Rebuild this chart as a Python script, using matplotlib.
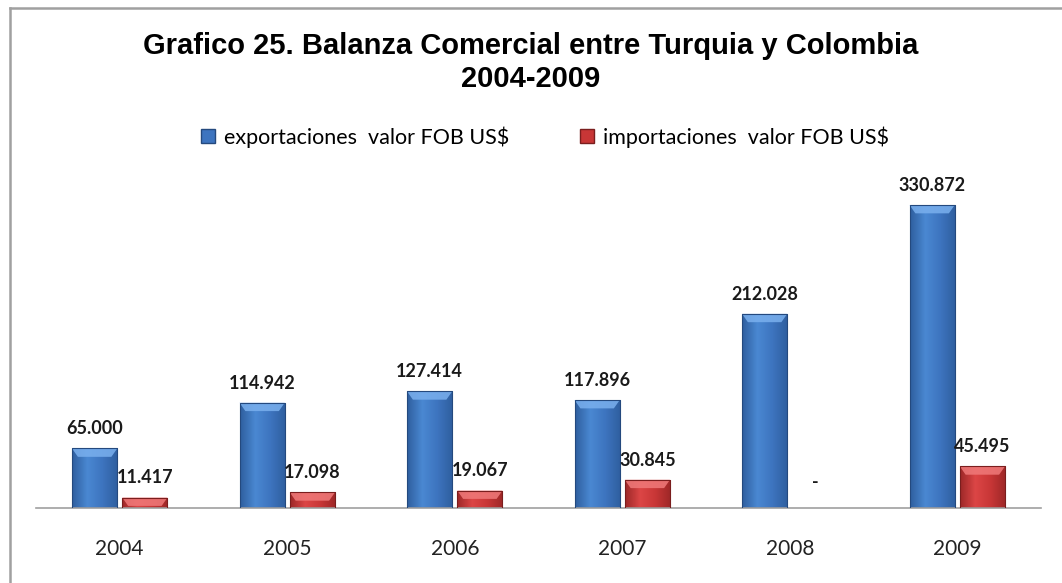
"""Grafico 25: balanza comercial entre Turquia y Colombia, 2004-2009."""

import matplotlib

matplotlib.use("Agg")
import matplotlib.pyplot as plt  # noqa: E402
import numpy as np  # noqa: E402
from matplotlib.colors import LinearSegmentedColormap  # noqa: E402
from matplotlib.lines import Line2D  # noqa: E402
from matplotlib.patches import Polygon, Rectangle  # noqa: E402

years = ["2004", "2005", "2006", "2007", "2008", "2009"]
exportaciones = [65000, 114942, 127414, 117896, 212028, 330872]
importaciones = [11417, 17098, 19067, 30845, 0, 45495]
series_names = ["exportaciones  valor FOB US$", "importaciones  valor FOB US$"]

BLUE = ("#2f5f9f", "#4a88d2", "#3d74bf", "#24497e", "#7ab0ee")
RED = ("#9e2828", "#dc4646", "#c83636", "#7a1e1e", "#f07a7a")


def _fancy_bars(ax, bars, palette, ymax):
    """Paint a horizontal gradient and a light top bevel onto each bar."""
    dark, light, mid, edge, top = palette
    cmap = LinearSegmentedColormap.from_list("g", [dark, light, mid, dark])
    grad = np.linspace(0, 1, 64).reshape(1, -1)
    for b in bars:
        x0, y0 = b.get_x(), b.get_y()
        w, h = b.get_width(), b.get_height()
        if h <= 0:
            continue
        im = ax.imshow(grad, cmap=cmap, aspect="auto", extent=(x0, x0 + w, y0, y0 + h),
                       zorder=2)
        im.set_clip_path(b)
        b.set_facecolor("none")
        b.set_edgecolor(edge)
        b.set_linewidth(0.8)
        b.set_zorder(3)
        bev = min(0.024 * ymax, h * 0.8)
        inset = w * 0.13
        ax.add_patch(Polygon([(x0, y0 + h), (x0 + w, y0 + h), (x0 + w - inset, y0 + h - bev),
                              (x0 + inset, y0 + h - bev)], closed=True, facecolor=top,
                             edgecolor="none", alpha=0.85, zorder=2.5))


def _fmt(v):
    return "-" if v == 0 else f"{v:,}".replace(",", ".")


fig = plt.figure(figsize=(10.62, 5.83), dpi=100)
ax = fig.add_axes([36 / 1062, 75 / 583, 1005 / 1062, 348 / 583])

ymax = 380000
x = np.arange(len(years))
width = 0.27
gap = 0.03
b1 = ax.bar(x - (width + gap) / 2, exportaciones, width)
b2 = ax.bar(x + (width + gap) / 2, importaciones, width)
_fancy_bars(ax, b1, BLUE, ymax)
_fancy_bars(ax, b2, RED, ymax)

for bars, vals in ((b1, exportaciones), (b2, importaciones)):
    for b, v in zip(bars, vals):
        off = 12 if v == 0 else 8
        ax.annotate(_fmt(v), (b.get_x() + b.get_width() / 2, v), xytext=(0, off),
                    textcoords="offset points", ha="center", va="bottom",
                    fontsize=13, fontweight="bold", family="Lato", color="#1a1a1a")

ax.set_xlim(-0.5, len(years) - 0.5)
ax.set_ylim(0, ymax)
ax.set_xticks(x)
ax.set_xticklabels(years, family="Lato", fontsize=15, color="#222222")
ax.tick_params(axis="x", length=0, pad=22)
ax.set_yticks([])
for side in ("top", "right", "left"):
    ax.spines[side].set_visible(False)
ax.spines["bottom"].set_color("#a0a0a0")
ax.spines["bottom"].set_linewidth(1.2)

fig.text(0.5, 1 - 46 / 583, "Grafico 25. Balanza Comercial entre Turquia y Colombia",
         ha="center", va="center", fontsize=21, fontweight="bold", family="Liberation Sans")
fig.text(0.5, 1 - 79 / 583, "2004-2009", ha="center", va="center", fontsize=21,
         fontweight="bold", family="Liberation Sans")

handles = [Rectangle((0, 0), 1, 1, facecolor=BLUE[2], edgecolor=BLUE[3]),
           Rectangle((0, 0), 1, 1, facecolor=RED[2], edgecolor=RED[3])]
fig.legend(handles, series_names, loc="center", bbox_to_anchor=(545 / 1062, 1 - 137 / 583),
           ncol=2, frameon=False, handlelength=0.65, handleheight=0.65, handletextpad=0.4,
           columnspacing=3.3, prop={"family": "Lato", "size": 15.5})

frame = "#a0a0a0"
fig.add_artist(Line2D([10 / 1062, 10 / 1062], [0, 1 - 8 / 583], transform=fig.transFigure,
                      color=frame, lw=1.8))
fig.add_artist(Line2D([10 / 1062, 1], [1 - 8 / 583, 1 - 8 / 583], transform=fig.transFigure,
                      color=frame, lw=1.8))

fig.savefig("out.png", dpi=100)
